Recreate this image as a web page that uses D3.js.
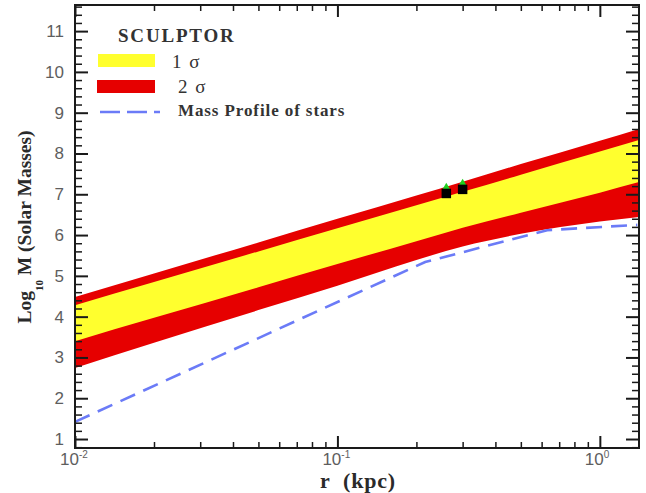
<!DOCTYPE html>
<html>
<head>
<meta charset="utf-8">
<script src="https://cdn.jsdelivr.net/npm/d3@7"></script>
<style>
  html, body { margin: 0; padding: 0; background: #fff; }
  svg { display: block; }
</style>
</head>
<body>
<svg id="chart" width="646" height="493"></svg>
<script>
// Radius grid (kpc) on which the confidence bands are sampled
const rGrid = [0.01, 0.02, 0.05, 0.1, 0.2, 0.3, 0.5, 1.0, 1.41];
// log10 M bounds of the 2-sigma and 1-sigma bands
const sigma2Upper = [4.48, 5.06, 5.82, 6.40, 6.97, 7.31, 7.74, 8.31, 8.60];
const sigma1Upper = [4.28, 4.85, 5.60, 6.17, 6.73, 7.06, 7.48, 8.05, 8.33];
const sigma1Lower = [3.40, 3.97, 4.72, 5.29, 5.85, 6.18, 6.55, 7.04, 7.30];
const sigma2Lower = [2.74, 3.36, 4.16, 4.76, 5.39, 5.72, 6.03, 6.33, 6.44];
// Stellar mass profile
const starR = [0.01, 0.216, 0.63, 1.39];
const starMass = [1.42, 5.34, 6.12, 6.25];
// Measured mass estimates
const obsR = [0.26, 0.30];
const obsMass = [7.02, 7.12];
// Axis ticks
const yMajorTicks = [1, 2, 3, 4, 5, 6, 7, 8, 9, 10, 11];
const xMajorTicks = [0.01, 0.1, 1];
const xTickExponents = ["-2", "-1", "0"];
// Legend
const legendTitle = "SCULPTOR";
const legendLabels = ["1 \u03c3", "2 \u03c3", "Mass Profile of stars"];

const W = 646, H = 493;
const plot = { left: 75, right: 639, top: 5, bottom: 448 };

const svg = d3.select("#chart");
svg.append("rect").attr("width", W).attr("height", H).attr("fill", "#fff");

const x = d3.scaleLog().domain([0.01, 1.41]).range([plot.left, plot.right]);
const y = d3.scaleLinear().domain([0.78, 11.64]).range([plot.bottom, plot.top]);

svg.append("clipPath").attr("id", "plotClip")
  .append("rect")
  .attr("x", plot.left).attr("y", plot.top)
  .attr("width", plot.right - plot.left).attr("height", plot.bottom - plot.top);

const bands = svg.append("g").attr("clip-path", "url(#plotClip)");
const idx = d3.range(rGrid.length);

const RED = "#e60000", YELLOW = "#ffff2e", BLUE = "#6b7bf7";

// 2-sigma band
bands.append("path")
  .attr("fill", RED)
  .attr("d", d3.area()
    .x(i => x(rGrid[i]))
    .y0(i => y(sigma2Lower[i]))
    .y1(i => y(sigma2Upper[i]))
    .curve(d3.curveMonotoneX)(idx));

// 1-sigma band
bands.append("path")
  .attr("fill", YELLOW)
  .attr("d", d3.area()
    .x(i => x(rGrid[i]))
    .y0(i => y(sigma1Lower[i]))
    .y1(i => y(sigma1Upper[i]))
    .curve(d3.curveMonotoneX)(idx));

// Stellar mass profile
bands.append("path")
  .attr("fill", "none")
  .attr("stroke", BLUE)
  .attr("stroke-width", 2.6)
  .attr("stroke-dasharray", "16,9")
  .attr("d", d3.line()
    .x(i => x(starR[i]))
    .y(i => y(starMass[i]))(d3.range(starR.length)));

// Measured points: green cap under a black square
const pts = svg.append("g");
obsR.forEach((r, i) => {
  const px = x(r), py = y(obsMass[i]);
  pts.append("path")
    .attr("d", d3.symbol().type(d3.symbolTriangle).size(42)())
    .attr("transform", `translate(${px},${py - 5})`)
    .attr("fill", "#1fd01f");
  pts.append("path")
    .attr("d", d3.symbol().type(d3.symbolSquare).size(90)())
    .attr("transform", `translate(${px},${py})`)
    .attr("fill", "#000");
});

// Axes
const AX = "#1a1a1a";
const xMinor = [];
[0.01, 0.1, 1].forEach(d => { for (let k = 2; k <= 9; k++) { const v = d * k; if (v <= 1.41) xMinor.push(v); } });
const yMinor = d3.range(0.8, 11.61, 0.2).map(v => +v.toFixed(1)).filter(v => Math.abs(v - Math.round(v)) > 1e-6);

function styleAxis(g, w) {
  g.select(".domain").remove();
  g.selectAll(".tick line").attr("stroke", AX).attr("stroke-width", w);
}

svg.append("g").attr("transform", `translate(0,${plot.bottom})`)
  .call(d3.axisBottom(x).tickValues(xMinor).tickSize(-6).tickFormat(""))
  .call(g => styleAxis(g, 1.5));
svg.append("g").attr("transform", `translate(0,${plot.bottom})`)
  .call(d3.axisBottom(x).tickValues(xMajorTicks).tickSize(-12).tickFormat(""))
  .call(g => styleAxis(g, 2));
svg.append("g").attr("transform", `translate(0,${plot.top})`)
  .call(d3.axisTop(x).tickValues(xMinor).tickSize(-6).tickFormat(""))
  .call(g => styleAxis(g, 1.5));
svg.append("g").attr("transform", `translate(0,${plot.top})`)
  .call(d3.axisTop(x).tickValues(xMajorTicks).tickSize(-12).tickFormat(""))
  .call(g => styleAxis(g, 2));

svg.append("g").attr("transform", `translate(${plot.left},0)`)
  .call(d3.axisLeft(y).tickValues(yMinor).tickSize(-7).tickFormat(""))
  .call(g => styleAxis(g, 1.5));
const yLeft = svg.append("g").attr("transform", `translate(${plot.left},0)`)
  .call(d3.axisLeft(y).tickValues(yMajorTicks).tickSize(-13).tickPadding(11).tickFormat(d3.format("d")))
  .call(g => styleAxis(g, 2));
yLeft.selectAll(".tick text")
  .attr("font-family", "'Liberation Sans', Arial, sans-serif")
  .attr("font-size", 17)
  .attr("fill", "#5e5e5e");
svg.append("g").attr("transform", `translate(${plot.right},0)`)
  .call(d3.axisRight(y).tickValues(yMinor).tickSize(-7).tickFormat(""))
  .call(g => styleAxis(g, 1.5));
svg.append("g").attr("transform", `translate(${plot.right},0)`)
  .call(d3.axisRight(y).tickValues(yMajorTicks).tickSize(-13).tickFormat(""))
  .call(g => styleAxis(g, 2));

// Frame
svg.append("rect")
  .attr("x", plot.left).attr("y", plot.top)
  .attr("width", plot.right - plot.left).attr("height", plot.bottom - plot.top)
  .attr("fill", "none").attr("stroke", AX).attr("stroke-width", 2);

// X tick labels: powers of ten
xMajorTicks.forEach((v, i) => {
  const t = svg.append("text")
    .attr("x", x(v) - 15).attr("y", 465)
    .attr("font-family", "'Liberation Sans', Arial, sans-serif")
    .attr("font-size", 17).attr("fill", "#5e5e5e");
  t.append("tspan").text("10");
  t.append("tspan").attr("font-size", 10).attr("dy", -7).text(xTickExponents[i]);
});

// Axis titles
const serif = "'Liberation Serif', 'Times New Roman', serif";
const xt = svg.append("text")
  .attr("x", 320).attr("y", 488)
  .attr("font-family", serif).attr("font-weight", "bold")
  .attr("font-size", 22).attr("letter-spacing", 0.8).attr("fill", "#2a2a2a");
xt.append("tspan").text("r");
xt.append("tspan").attr("x", 343).text("(kpc)");

const yt = svg.append("text")
  .attr("transform", "translate(31,227) rotate(-90)")
  .attr("text-anchor", "middle")
  .attr("font-family", serif).attr("font-weight", "bold")
  .attr("font-size", 19.5).attr("fill", "#2a2a2a");
yt.append("tspan").text("Log");
yt.append("tspan").attr("font-size", 11).attr("dy", 12).text("10");
yt.append("tspan").attr("dy", -12).text(" M (Solar Masses)");

// Legend
const lg = svg.append("g");
lg.append("text").attr("x", 118).attr("y", 42)
  .attr("font-family", serif).attr("font-weight", "bold")
  .attr("font-size", 19).attr("letter-spacing", 1.8).attr("fill", "#333")
  .text(legendTitle);
lg.append("rect").attr("x", 98).attr("y", 54).attr("width", 57).attr("height", 13).attr("fill", YELLOW);
lg.append("text").attr("x", 172).attr("y", 68)
  .attr("font-family", serif).attr("font-size", 19).attr("letter-spacing", 1.5).attr("fill", "#333")
  .text(legendLabels[0]);
lg.append("rect").attr("x", 97).attr("y", 80).attr("width", 58).attr("height", 13).attr("fill", RED);
lg.append("text").attr("x", 178).attr("y", 93)
  .attr("font-family", serif).attr("font-size", 19).attr("letter-spacing", 1.5).attr("fill", "#333")
  .text(legendLabels[1]);
lg.append("line").attr("x1", 100).attr("x2", 160).attr("y1", 112).attr("y2", 112)
  .attr("stroke", BLUE).attr("stroke-width", 2.4).attr("stroke-dasharray", "20,7");
lg.append("text").attr("x", 178).attr("y", 116)
  .attr("font-family", serif).attr("font-weight", "bold")
  .attr("font-size", 17).attr("letter-spacing", 0.9).attr("fill", "#333")
  .text(legendLabels[2]);
</script>
</body>
</html>
